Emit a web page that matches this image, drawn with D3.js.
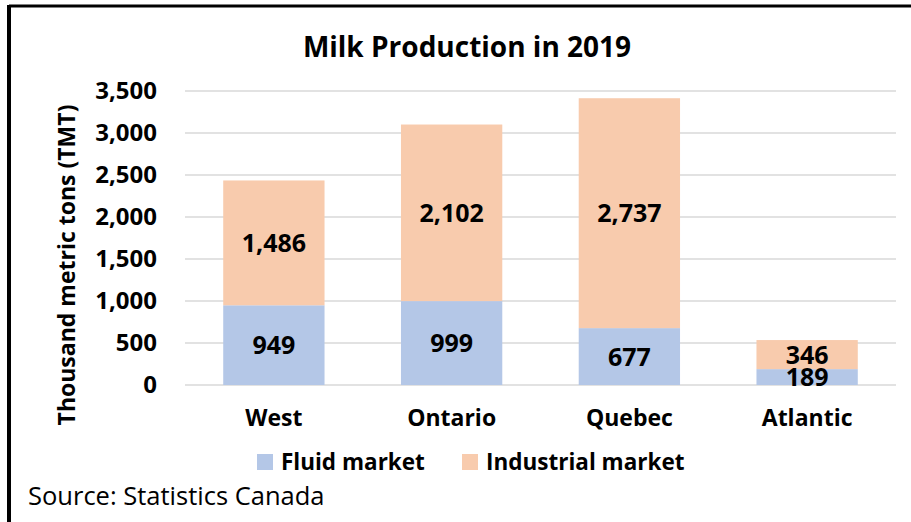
<!DOCTYPE html>
<html>
<head>
<meta charset="utf-8">
<script src="https://cdn.jsdelivr.net/npm/d3@7"></script>
<style>
  html, body { margin: 0; padding: 0; background: #fff; }
  svg { display: block; font-family: "Open Sans", Lato, sans-serif; }
</style>
</head>
<body>
<svg id="chart" width="911" height="522"></svg>
<script>
// Milk production by region, 2019 (thousand metric tons)
const regions = ["West", "Ontario", "Quebec", "Atlantic"];
const fluidMarket = [949, 999, 677, 189];
const industrialMarket = [1486, 2102, 2737, 346];
const seriesNames = ["Fluid market", "Industrial market"];
const seriesColors = ["#B4C7E7", "#F8CBAD"];
const yTicks = [0, 500, 1000, 1500, 2000, 2500, 3000, 3500];

const FONT = "'Open Sans', Lato, sans-serif";
const svg = d3.select("#chart");
const plot = { left: 185, right: 896, top: 91, bottom: 385 };

// frame lines along the top and left edges
svg.append("line").attr("x1", 9).attr("x2", 911).attr("y1", 6).attr("y2", 6)
  .attr("stroke", "#000").attr("stroke-width", 3);
svg.append("line").attr("x1", 9).attr("x2", 9).attr("y1", 5).attr("y2", 522)
  .attr("stroke", "#000").attr("stroke-width", 4);

const x = d3.scaleBand().domain(regions).range([plot.left, plot.right])
  .paddingInner(0.43).paddingOuter(0.215);
const y = d3.scaleLinear().domain([0, 3500]).range([plot.bottom, plot.top]);

// gridlines
svg.append("g").selectAll("line").data(yTicks).join("line")
  .attr("x1", plot.left).attr("x2", plot.right)
  .attr("y1", d => y(d)).attr("y2", d => y(d))
  .attr("stroke", "#D9D9D9").attr("stroke-width", 1.5);

// y axis tick labels
const yAxis = d3.axisLeft(y).tickValues(yTicks).tickSize(0).tickPadding(0)
  .tickFormat(d3.format(","));
svg.append("g").attr("transform", `translate(157,0)`).call(yAxis)
  .call(g => g.select(".domain").remove())
  .call(g => g.selectAll("text").attr("font-size", 24).attr("font-weight", 700)
    .attr("fill", "#000").attr("font-family", FONT));

// stacked bars
const rows = regions.map((r, i) => ({ region: r, fluid: fluidMarket[i], industrial: industrialMarket[i] }));
const stack = d3.stack().keys(["fluid", "industrial"])(rows);

const layers = svg.append("g").selectAll("g").data(stack).join("g")
  .attr("fill", (d, i) => seriesColors[i]);
layers.selectAll("rect").data(d => d).join("rect")
  .attr("x", d => x(d.data.region))
  .attr("width", x.bandwidth())
  .attr("y", d => y(d[1]))
  .attr("height", d => y(d[0]) - y(d[1]));

// value labels centred within each segment
svg.append("g").selectAll("g").data(stack).join("g")
  .selectAll("text").data(d => d).join("text")
  .attr("x", d => x(d.data.region) + x.bandwidth() / 2)
  .attr("y", d => (y(d[0]) + y(d[1])) / 2)
  .attr("dy", "0.36em")
  .attr("text-anchor", "middle")
  .attr("font-size", 25).attr("font-weight", 700).attr("fill", "#000")
  .text(d => d3.format(",")(d[1] - d[0]));

// x axis category labels
const xAxis = d3.axisBottom(x).tickSize(0).tickPadding(0);
svg.append("g").attr("transform", `translate(0,${plot.bottom + 25})`).call(xAxis)
  .call(g => g.select(".domain").remove())
  .call(g => g.selectAll("text").attr("font-size", 23).attr("font-weight", 700)
    .attr("fill", "#000").attr("font-family", FONT));

// y axis title
svg.append("text")
  .attr("transform", `translate(75,265) rotate(-90)`)
  .attr("text-anchor", "middle")
  .attr("font-size", 23).attr("font-weight", 700)
  .text("Thousand metric tons (TMT)");

// chart title
svg.append("text")
  .attr("x", 467).attr("y", 57)
  .attr("text-anchor", "middle")
  .attr("font-size", 28).attr("font-weight", 700)
  .text("Milk Production in 2019");

// legend
const legendX = [257, 462];
const legend = svg.append("g").selectAll("g").data(seriesNames).join("g")
  .attr("transform", (d, i) => `translate(${legendX[i]},454)`);
legend.append("rect").attr("width", 16).attr("height", 16)
  .attr("fill", (d, i) => seriesColors[i]);
legend.append("text").attr("x", 24).attr("y", 8).attr("dy", "0.36em")
  .attr("font-size", 22.5).attr("font-weight", 700).text(d => d);

// source note
svg.append("text").attr("x", 28).attr("y", 505)
  .attr("font-size", 25.5).text("Source: Statistics Canada");
</script>
</body>
</html>
